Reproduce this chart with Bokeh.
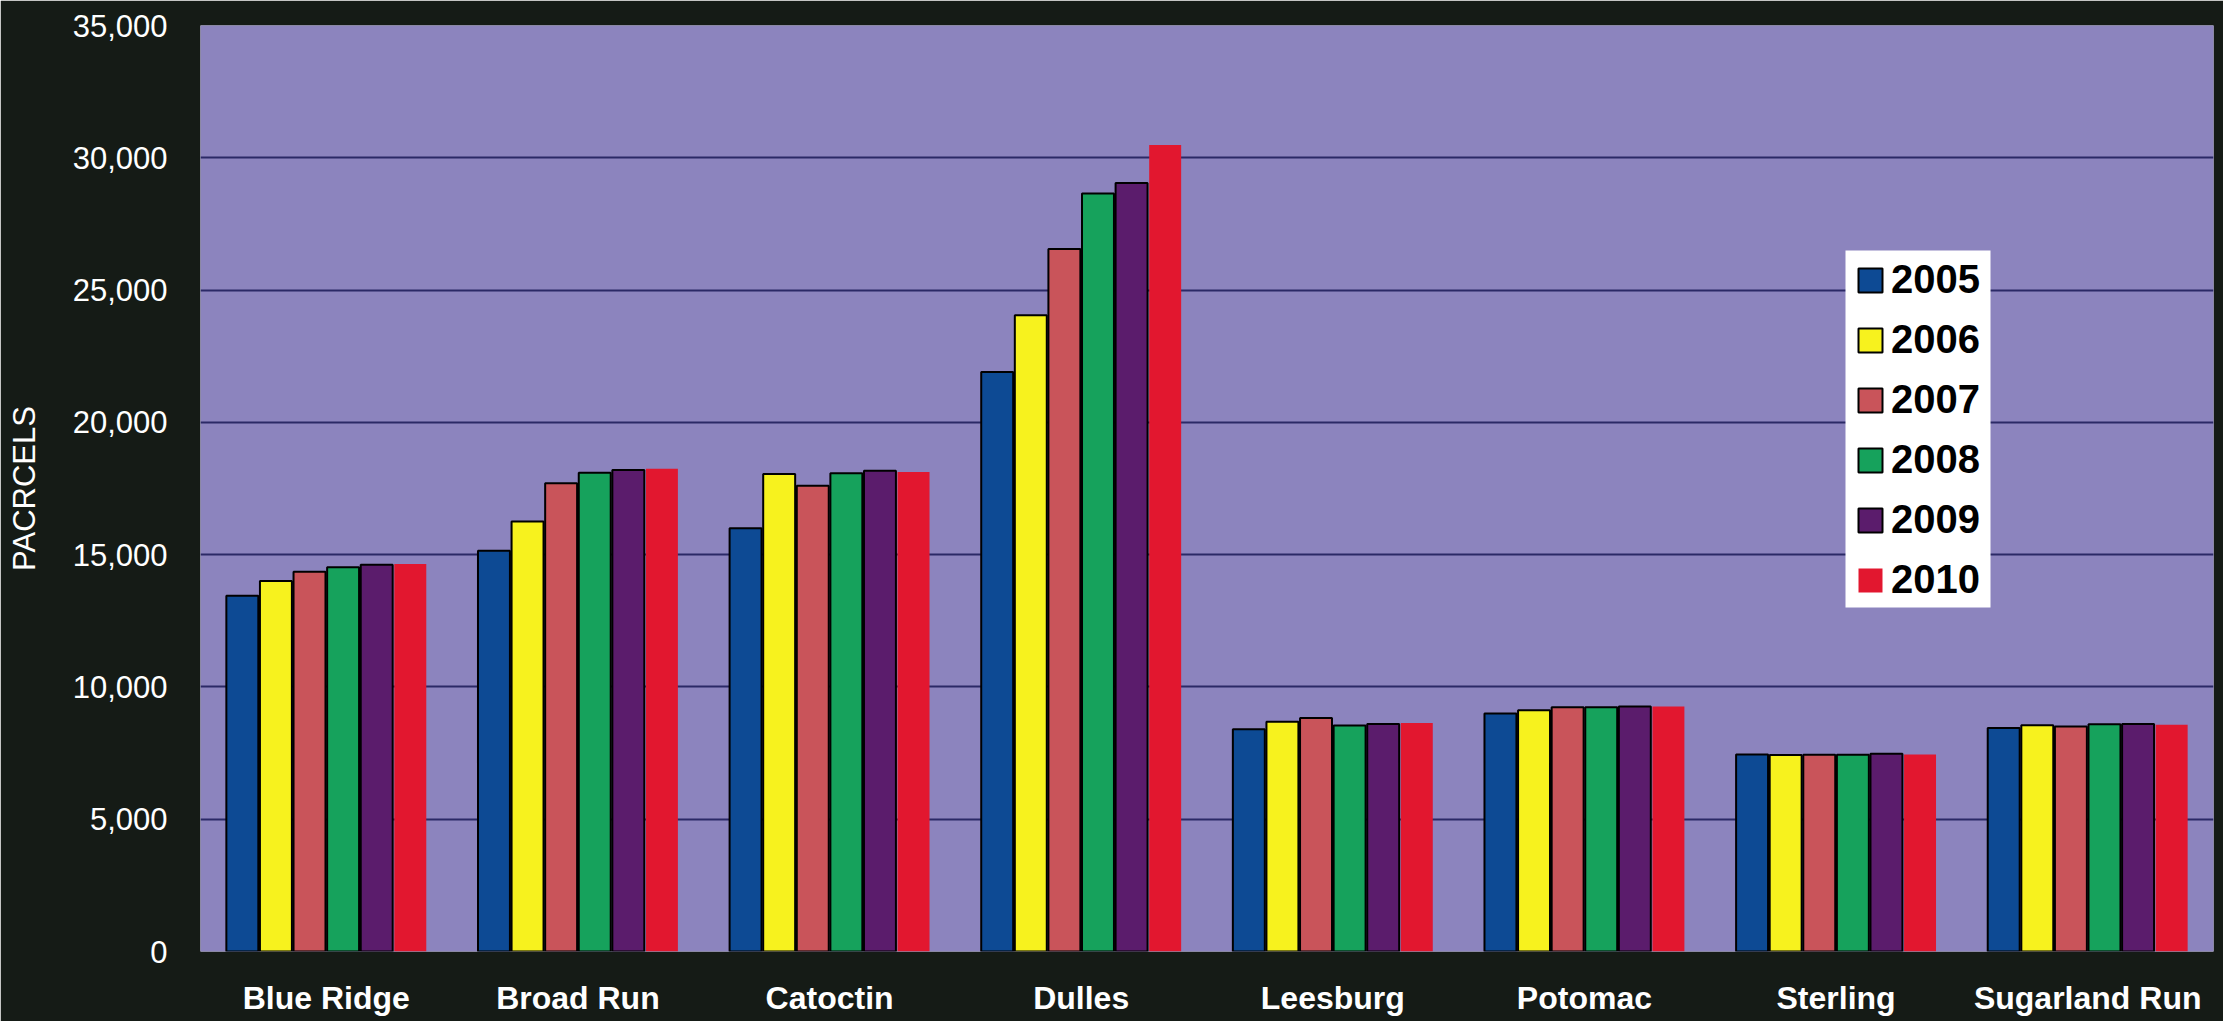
from bokeh.plotting import figure
from bokeh.models import (ColumnDataSource, Legend, LegendItem, NumeralTickFormatter,
                          FixedTicker, BoxAnnotation)
from bokeh.transform import dodge
from bokeh.embed import file_html
from bokeh.resources import INLINE

# Parcel counts by election district, 2005-2010
districts = ["Blue Ridge", "Broad Run", "Catoctin", "Dulles",
             "Leesburg", "Potomac", "Sterling", "Sugarland Run"]
years = ["2005", "2006", "2007", "2008", "2009", "2010"]

parcels_2005 = [13450, 15150, 16000, 21900, 8400, 9000, 7450, 8450]
parcels_2006 = [14000, 16250, 18050, 24050, 8680, 9120, 7430, 8550]
parcels_2007 = [14350, 17700, 17600, 26550, 8830, 9230, 7440, 8500]
parcels_2008 = [14520, 18100, 18080, 28650, 8540, 9230, 7440, 8590]
parcels_2009 = [14620, 18200, 18170, 29050, 8600, 9260, 7470, 8600]
parcels_2010 = [14650, 18250, 18120, 30480, 8640, 9260, 7450, 8570]

y_ticks = [0, 5000, 10000, 15000, 20000, 25000, 30000, 35000]

year_colors = ["#0D4A94", "#F7F21E", "#C9545A", "#16A25C", "#5B1C6C", "#E2172F"]

source = ColumnDataSource(dict(
    district=districts,
    y2005=parcels_2005, y2006=parcels_2006, y2007=parcels_2007,
    y2008=parcels_2008, y2009=parcels_2009, y2010=parcels_2010,
))

p = figure(
    x_range=districts, y_range=(0, 35000),
    width=2223, height=1021,
    output_backend="svg", toolbar_location=None,
    min_border_left=200, min_border_right=10,
    min_border_top=25, min_border_bottom=70,
)

p.background_fill_color = "#8C84BE"
p.border_fill_color = "#151B16"
p.outline_line_color = None

p.xgrid.grid_line_color = None
p.ygrid.grid_line_color = "#2B2966"
p.ygrid.grid_line_width = 2

# y axis
p.yaxis.ticker = FixedTicker(ticks=y_ticks)
p.yaxis.formatter = NumeralTickFormatter(format="0,0")
p.yaxis.axis_label = "PACRCELS"
p.yaxis.axis_label_text_font = "Liberation Sans"
p.yaxis.axis_label_text_font_size = "31px"
p.yaxis.axis_label_text_font_style = "normal"
p.yaxis.axis_label_text_color = "white"
p.yaxis.axis_label_standoff = 28
p.yaxis.major_label_text_font = "Liberation Sans"
p.yaxis.major_label_text_font_size = "31px"
p.yaxis.major_label_text_color = "white"
p.yaxis.major_label_standoff = 27
p.yaxis.axis_line_color = None
p.yaxis.major_tick_line_color = None
p.yaxis.minor_tick_line_color = None

# x axis
p.xaxis.major_label_text_font = "Liberation Sans"
p.xaxis.major_label_text_font_size = "32px"
p.xaxis.major_label_text_font_style = "bold"
p.xaxis.major_label_text_color = "white"
p.xaxis.major_label_standoff = 22
p.xaxis.axis_line_color = None
p.xaxis.major_tick_line_color = None
p.xaxis.minor_tick_line_color = None

# grouped bars, one dodge offset per year
pitch = 0.1335
bar_w = 0.127
items = []
for i, (yr, col) in enumerate(zip(years, year_colors)):
    outlined = yr != "2010"
    r = p.vbar(
        x=dodge("district", (i - 2.5) * pitch, range=p.x_range),
        top=f"y{yr}", width=bar_w, bottom=0, source=source,
        fill_color=col,
        line_color="black" if outlined else None,
        line_width=2,
    )
    items.append(LegendItem(label=yr, renderers=[r]))

# white panel behind the legend entries (screen units, frame-relative)
legend_panel = BoxAnnotation(
    left=1645, right=1790, bottom=344, top=701,
    left_units="screen", right_units="screen",
    bottom_units="screen", top_units="screen",
    fill_color="white", fill_alpha=1.0, line_color=None,
)
p.add_layout(legend_panel)

legend = Legend(
    items=items, location=(1655, 349),
    background_fill_alpha=0.0,
    border_line_color=None,
    label_text_font="Liberation Sans", label_text_font_style="bold",
    label_text_font_size="40px", label_text_color="black",
    glyph_width=30, glyph_height=30, spacing=15, padding=0,
    label_standoff=6, margin=0,
)
p.add_layout(legend)

open("out.html", "w").write(file_html(p, INLINE))
